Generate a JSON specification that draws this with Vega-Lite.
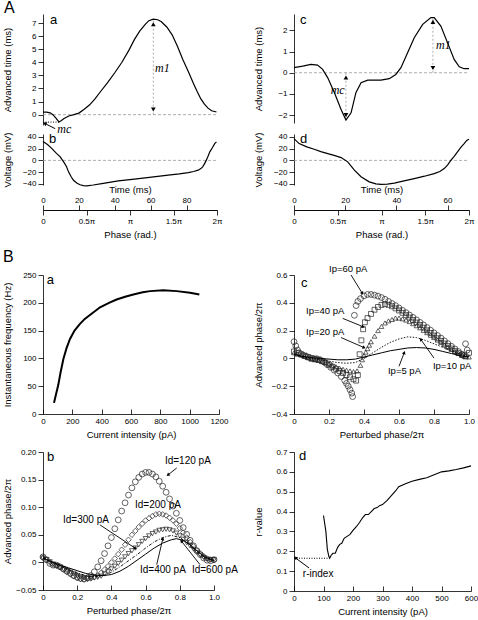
{
"$schema": "https://vega.github.io/schema/vega-lite/v6.json",
"padding": {"left": 1, "top": 0, "right": 2, "bottom": 2},
"background": "white",
"config": {
  "font": "Liberation Sans",
  "view": {"stroke": null},
  "axis": {"grid": false, "labelFontSize": 8, "titleFontSize": 9.5, "titleFontWeight": "normal", "labelColor": "#000", "titleColor": "#000", "domainColor": "#000", "tickColor": "#000", "domainWidth": 0.8, "tickWidth": 0.8, "labelFlush": false, "labelOverlap": false, "labelPadding": 2, "tickSize": 5, "labelFont": "Liberation Sans", "titleFont": "Liberation Sans"},
  "axisY": {"titleX": -31, "titlePadding": 4},
  "axisX": {"tickSize": -5, "labelPadding": 8, "titlePadding": 4},
  "text": {"font": "Liberation Sans", "color": "#000"}
},
"columns": 2,
"spacing": {"row": 9, "column": 75},
"bounds": "flush",
"align": "each",
"concat": [
{
  "width": 174, "height": 111,
  "title": {"text": "A", "anchor": "start", "frame": "group", "fontSize": 16, "fontWeight": "normal", "baseline": "alphabetic", "dx": -39, "dy": 15, "offset": 0, "color": "#000"},
  "encoding": {
    "x": {"field": "x", "type": "quantitative", "scale": {"domain": [0, 97], "nice": false, "zero": false}, "axis": null},
    "y": {"field": "y", "type": "quantitative", "scale": {"domain": [-0.79, 7.69], "nice": false, "zero": false}, "axis": {"values": [0,1,2,3,4,5,6,7], "title": "Advanced time (ms)"}}
  },
  "layer": [
    {"data": {"values": [{"x": 0, "x2": 97, "y": 0}]}, "mark": {"type": "rule", "color": "#999", "strokeDash": [3, 2], "strokeWidth": 0.8}, "encoding": {"x2": {"field": "x2"}}},
    {"data": {"values": [{"x": 61.5, "y": 0, "y2": 7.3}]}, "mark": {"type": "rule", "color": "#999", "strokeDash": [2, 2], "strokeWidth": 0.8}, "encoding": {"y2": {"field": "y2"}}},
    {"data": {"values": [{"x": 0, "x2": 9, "y": -0.57}]}, "mark": {"type": "rule", "color": "#000", "strokeDash": [1, 1.5], "strokeWidth": 1}, "encoding": {"x2": {"field": "x2"}}},
    {"data": {"values": [{"x": 6.8, "y": -1.07, "x2": 1.8, "y2": -0.73}]}, "mark": {"type": "rule", "color": "#000", "strokeWidth": 1}, "encoding": {"x2": {"field": "x2"}, "y2": {"field": "y2"}}},
    {"data": {"values": [{"x": 1.3, "y": -0.69}]}, "mark": {"type": "point", "shape": "triangle", "angle": -63, "filled": true, "size": 18, "color": "#000", "opacity": 1}},
    {"data": {"values": [{"x": 61.5, "y": 6.9}]}, "mark": {"type": "point", "shape": "triangle-up", "filled": true, "size": 22, "color": "#000", "opacity": 1}},
    {"data": {"values": [{"x": 61.5, "y": 0.4}]}, "mark": {"type": "point", "shape": "triangle-down", "filled": true, "size": 22, "color": "#000", "opacity": 1}},
    {"data": {"values": [
      {"x":0,"y":0.2},{"x":2,"y":0.2},{"x":4,"y":0.14},{"x":5.5,"y":0.0},{"x":7,"y":-0.22},{"x":8.9,"y":-0.56},{"x":10.3,"y":-0.45},{"x":11.7,"y":-0.3},{"x":14.4,"y":-0.1},{"x":17.2,"y":0.0},{"x":20,"y":0.12},{"x":23,"y":0.42},{"x":26,"y":0.75},{"x":29,"y":1.2},{"x":32,"y":1.75},{"x":36,"y":2.45},{"x":40,"y":3.2},{"x":44,"y":4.0},{"x":48,"y":4.95},{"x":51,"y":5.75},{"x":54,"y":6.4},{"x":57,"y":6.9},{"x":59,"y":7.18},{"x":61.5,"y":7.3},{"x":64,"y":7.25},{"x":66,"y":7.1},{"x":69,"y":6.7},{"x":72,"y":6.1},{"x":75,"y":5.2},{"x":78,"y":4.2},{"x":81,"y":3.3},{"x":84,"y":2.35},{"x":86,"y":1.75},{"x":88,"y":1.2},{"x":90,"y":0.8},{"x":92,"y":0.5},{"x":94,"y":0.3},{"x":96.7,"y":0.2}
    ]}, "mark": {"type": "line", "color": "#000", "strokeWidth": 1.2}},
    {"data": {"values": [{"x": 3.9, "y": 7.23, "label": "a"}]}, "mark": {"type": "text", "fontSize": 13, "align": "left", "baseline": "middle"}, "encoding": {"text": {"field": "label"}}},
    {"data": {"values": [{"x": 62.5, "y": 3.6, "label": "m1"}, {"x": 8, "y": -1.12, "label": "mc"}]}, "mark": {"type": "text", "font": "Liberation Serif", "fontStyle": "italic", "fontSize": 12, "align": "left", "baseline": "middle"}, "encoding": {"text": {"field": "label"}}}
  ]
},
{
  "width": 175, "height": 109,
  "encoding": {
    "x": {"field": "x", "type": "quantitative", "scale": {"domain": [0, 68.4], "nice": false, "zero": false}, "axis": null},
    "y": {"field": "y", "type": "quantitative", "scale": {"domain": [-2.37, 2.77], "nice": false, "zero": false}, "axis": {"values": [-2,-1,0,1,2], "title": "Advanced time (ms)"}}
  },
  "layer": [
    {"data": {"values": [{"x": 0, "x2": 68.4, "y": 0}]}, "mark": {"type": "rule", "color": "#999", "strokeDash": [3, 2], "strokeWidth": 0.8}, "encoding": {"x2": {"field": "x2"}}},
    {"data": {"values": [{"x": 54.3, "y": 0, "y2": 2.6}, {"x": 20.3, "y": 0, "y2": -2.2}]}, "mark": {"type": "rule", "color": "#999", "strokeDash": [2, 2], "strokeWidth": 0.8}, "encoding": {"y2": {"field": "y2"}}},
    {"data": {"values": [{"x": 54.3, "y": 2.4}, {"x": 20.3, "y": -0.22}]}, "mark": {"type": "point", "shape": "triangle-up", "filled": true, "size": 22, "color": "#000", "opacity": 1}},
    {"data": {"values": [{"x": 54.3, "y": 0.22}, {"x": 20.3, "y": -2.0}]}, "mark": {"type": "point", "shape": "triangle-down", "filled": true, "size": 22, "color": "#000", "opacity": 1}},
    {"data": {"values": [
      {"x":0,"y":0.24},{"x":3.4,"y":0.31},{"x":6.6,"y":0.39},{"x":9.2,"y":0.36},{"x":11.2,"y":0.16},{"x":13.2,"y":-0.24},{"x":15.8,"y":-0.94},{"x":18.4,"y":-1.73},{"x":20.3,"y":-2.23},{"x":22.3,"y":-1.89},{"x":24.2,"y":-0.94},{"x":26.2,"y":-0.47},{"x":28.8,"y":-0.35},{"x":34,"y":-0.35},{"x":37.2,"y":-0.28},{"x":39.8,"y":-0.08},{"x":41.8,"y":0.24},{"x":44.4,"y":0.94},{"x":47,"y":1.65},{"x":50.3,"y":2.28},{"x":53.5,"y":2.6},{"x":54.8,"y":2.6},{"x":57.4,"y":2.2},{"x":60,"y":1.42},{"x":62.6,"y":0.63},{"x":64.6,"y":0.28},{"x":66.5,"y":0.19},{"x":68.4,"y":0.19}
    ]}, "mark": {"type": "line", "color": "#000", "strokeWidth": 1.2}},
    {"data": {"values": [{"x": 2.3, "y": 2.48, "label": "c"}]}, "mark": {"type": "text", "fontSize": 13, "align": "left", "baseline": "middle"}, "encoding": {"text": {"field": "label"}}},
    {"data": {"values": [{"x": 55.5, "y": 1.3, "label": "m1"}]}, "mark": {"type": "text", "font": "Liberation Serif", "fontStyle": "italic", "fontSize": 12, "align": "left", "baseline": "middle"}, "encoding": {"text": {"field": "label"}}},
    {"data": {"values": [{"x": 19.8, "y": -0.8, "label": "mc"}]}, "mark": {"type": "text", "font": "Liberation Serif", "fontStyle": "italic", "fontSize": 12, "align": "right", "baseline": "middle"}, "encoding": {"text": {"field": "label"}}}
  ]
},
{
  "width": 174, "height": 51,
  "encoding": {
    "y": {"field": "y", "type": "quantitative", "scale": {"domain": [-42, 45], "nice": false, "zero": false}, "axis": {"values": [-40,-20,0,20,40], "title": "Voltage (mV)"}}
  },
  "layer": [
    {
      "encoding": {"x": {"field": "x", "type": "quantitative", "scale": {"domain": [0, 97], "nice": false, "zero": false}, "axis": {"orient": "top", "offset": -76, "title": "Time (ms)", "values": [0,20,40,60,80], "tickSize": 5, "labelPadding": 1, "titlePadding": 2}}},
      "layer": [
        {"data": {"values": [{"x": 0, "x2": 97, "y": 0}]}, "mark": {"type": "rule", "color": "#999", "strokeDash": [3, 2], "strokeWidth": 0.8}, "encoding": {"x2": {"field": "x2"}}},
        {"data": {"values": [
          {"x":0,"y":32},{"x":2.5,"y":27},{"x":5,"y":20},{"x":7.5,"y":12},{"x":9.6,"y":6},{"x":11.5,"y":-2.5},{"x":13,"y":-10},{"x":14.3,"y":-20},{"x":15.7,"y":-28},{"x":17,"y":-34},{"x":19,"y":-39},{"x":20.7,"y":-41.5},{"x":22.5,"y":-43},{"x":24.4,"y":-43.5},{"x":28,"y":-42},{"x":32.8,"y":-39.5},{"x":42,"y":-35},{"x":51,"y":-32},{"x":60.5,"y":-28.5},{"x":69.8,"y":-25},{"x":76,"y":-23},{"x":81,"y":-21},{"x":84,"y":-19},{"x":86.5,"y":-16.7},{"x":88,"y":-14},{"x":89,"y":-11},{"x":90,"y":-6},{"x":91,"y":0},{"x":92,"y":7},{"x":93,"y":14.5},{"x":94.5,"y":22},{"x":95.7,"y":28.6},{"x":96.7,"y":31.5}
        ]}, "mark": {"type": "line", "color": "#000", "strokeWidth": 1.2}},
        {"data": {"values": [{"x": 3.3, "y": 35.7, "label": "b"}]}, "mark": {"type": "text", "fontSize": 13, "align": "left", "baseline": "middle"}, "encoding": {"text": {"field": "label"}}}
      ]
    },
    {
      "data": {"values": [{"ph": 0, "y": 0}, {"ph": 2, "y": 0}]},
      "mark": {"type": "point", "opacity": 0},
      "encoding": {"x": {"field": "ph", "type": "quantitative", "scale": {"domain": [0, 2], "nice": false, "zero": false}, "axis": {"orient": "bottom", "offset": 25, "title": "Phase (rad.)", "values": [0, 0.5, 1, 1.5, 2], "labelExpr": "datum.value == 0 ? '0' : datum.value == 1 ? 'π' : datum.value == 2 ? '2π' : datum.value + 'π'", "tickSize": 5, "labelPadding": 2, "titlePadding": 4}}}
    }
  ],
  "resolve": {"scale": {"x": "independent"}, "axis": {"x": "independent"}}
},
{
  "width": 175, "height": 51,
  "encoding": {
    "y": {"field": "y", "type": "quantitative", "scale": {"domain": [-42, 45], "nice": false, "zero": false}, "axis": {"values": [-40,-20,0,20,40], "title": "Voltage (mV)"}}
  },
  "layer": [
    {
      "encoding": {"x": {"field": "x", "type": "quantitative", "scale": {"domain": [0, 68.4], "nice": false, "zero": false}, "axis": {"orient": "top", "offset": -76, "title": "Time (ms)", "values": [0,20,40,60], "tickSize": 5, "labelPadding": 1, "titlePadding": 2}}},
      "layer": [
        {"data": {"values": [{"x": 0, "x2": 68.4, "y": 0}]}, "mark": {"type": "rule", "color": "#999", "strokeDash": [3, 2], "strokeWidth": 0.8}, "encoding": {"x2": {"field": "x2"}}},
        {"data": {"values": [
          {"x":0,"y":37},{"x":2,"y":28.6},{"x":5,"y":23},{"x":7.9,"y":19},{"x":10.5,"y":15},{"x":13.2,"y":11.6},{"x":16,"y":8},{"x":18.4,"y":4.8},{"x":21,"y":-2.5},{"x":23.6,"y":-16.7},{"x":26.2,"y":-28},{"x":29.4,"y":-36.6},{"x":32,"y":-40},{"x":34,"y":-41},{"x":36.5,"y":-40.5},{"x":39.2,"y":-38.8},{"x":43,"y":-35},{"x":47,"y":-31},{"x":51,"y":-27},{"x":54.8,"y":-22.5},{"x":57,"y":-19},{"x":58.7,"y":-14},{"x":60,"y":-8},{"x":61.3,"y":0},{"x":62.6,"y":7},{"x":63.9,"y":14.5},{"x":65.2,"y":22},{"x":66.5,"y":28.6},{"x":67.5,"y":34},{"x":68.4,"y":36}
        ]}, "mark": {"type": "line", "color": "#000", "strokeWidth": 1.2}},
        {"data": {"values": [{"x": 2.3, "y": 36.6, "label": "d"}]}, "mark": {"type": "text", "fontSize": 13, "align": "left", "baseline": "middle"}, "encoding": {"text": {"field": "label"}}}
      ]
    },
    {
      "data": {"values": [{"ph": 0, "y": 0}, {"ph": 2, "y": 0}]},
      "mark": {"type": "point", "opacity": 0},
      "encoding": {"x": {"field": "ph", "type": "quantitative", "scale": {"domain": [0, 2], "nice": false, "zero": false}, "axis": {"orient": "bottom", "offset": 25, "title": "Phase (rad.)", "values": [0, 0.5, 1, 1.5, 2], "labelExpr": "datum.value == 0 ? '0' : datum.value == 1 ? 'π' : datum.value == 2 ? '2π' : datum.value + 'π'", "tickSize": 5, "labelPadding": 2, "titlePadding": 4}}}
    }
  ],
  "resolve": {"scale": {"x": "independent"}, "axis": {"x": "independent"}}
},
{"width": 10, "height": 72, "data": {"values": []}, "mark": "point"},
{"width": 10, "height": 72, "data": {"values": []}, "mark": "point"},
{
  "width": 176, "height": 139,
  "title": {"text": "B", "anchor": "start", "frame": "group", "fontSize": 16, "fontWeight": "normal", "baseline": "alphabetic", "dx": -40, "dy": 8, "offset": 1.5, "color": "#000"},
  "encoding": {
    "x": {"field": "x", "type": "quantitative", "scale": {"domain": [0, 1200], "nice": false, "zero": false}, "axis": {"values": [0,200,400,600,800,1000,1200], "format": "d", "title": "Current intensity (pA)"}},
    "y": {"field": "y", "type": "quantitative", "scale": {"domain": [0, 250], "nice": false, "zero": false}, "axis": {"values": [0,50,100,150,200,250], "title": "Instantaneous frequency (Hz)"}}
  },
  "layer": [
    {"data": {"values": [
      {"x":75,"y":20},{"x":90,"y":37},{"x":104,"y":52},{"x":120,"y":75},{"x":139,"y":99},{"x":160,"y":118},{"x":184,"y":135},{"x":215,"y":150},{"x":252,"y":162},{"x":285,"y":171},{"x":320,"y":178},{"x":389,"y":192},{"x":450,"y":200},{"x":502,"y":206},{"x":560,"y":211},{"x":616,"y":215},{"x":680,"y":219},{"x":730,"y":221},{"x":820,"y":222.5},{"x":912,"y":221},{"x":1003,"y":218},{"x":1066,"y":215}
    ]}, "mark": {"type": "line", "color": "#000", "strokeWidth": 2}},
    {"data": {"values": [{"x": 25, "y": 241, "label": "a"}]}, "mark": {"type": "text", "fontSize": 13, "align": "left", "baseline": "middle"}, "encoding": {"text": {"field": "label"}}}
  ]
},
{
  "width": 175, "height": 139,
  "encoding": {
    "x": {"field": "x", "type": "quantitative", "scale": {"domain": [0, 1], "nice": false, "zero": false}, "axis": {"values": [0,0.2,0.4,0.6,0.8,1], "labelExpr": "datum.value == 0 ? '0' : format(datum.value, '.1f')", "title": "Perturbed phase/2π"}},
    "y": {"field": "y", "type": "quantitative", "scale": {"domain": [-0.4, 0.6], "nice": false, "zero": false}, "axis": {"values": [-0.4,-0.2,0,0.2,0.4,0.6], "labelExpr": "datum.value == 0 ? '0' : format(datum.value, '.1f')", "title": "Advanced phase/2π"}}
  },
  "layer": [
    {"data": {"values": [
      {"x":0,"y":0.12},{"x":0.01,"y":0.09},{"x":0.02,"y":0.06},{"x":0.03,"y":0.04},{"x":0.05,"y":0.025},{"x":0.07,"y":0.015},{"x":0.09,"y":0.005},{"x":0.11,"y":0.0},{"x":0.13,"y":-0.002},{"x":0.15,"y":-0.01},{"x":0.17,"y":-0.025},{"x":0.19,"y":-0.045},{"x":0.21,"y":-0.065},{"x":0.23,"y":-0.085},{"x":0.25,"y":-0.105},{"x":0.27,"y":-0.13},{"x":0.29,"y":-0.16},{"x":0.3,"y":-0.18},{"x":0.31,"y":-0.2},{"x":0.32,"y":-0.225},{"x":0.33,"y":-0.25},{"x":0.335,"y":-0.275},{"x":0.345,"y":0.31},{"x":0.355,"y":0.38},{"x":0.365,"y":0.41},{"x":0.38,"y":0.43},{"x":0.4,"y":0.45},{"x":0.42,"y":0.46},{"x":0.44,"y":0.46},{"x":0.46,"y":0.455},{"x":0.48,"y":0.448},{"x":0.5,"y":0.438},{"x":0.52,"y":0.425},{"x":0.54,"y":0.41},{"x":0.56,"y":0.395},{"x":0.58,"y":0.38},{"x":0.6,"y":0.363},{"x":0.62,"y":0.346},{"x":0.64,"y":0.329},{"x":0.66,"y":0.312},{"x":0.68,"y":0.295},{"x":0.7,"y":0.277},{"x":0.72,"y":0.259},{"x":0.74,"y":0.241},{"x":0.76,"y":0.222},{"x":0.78,"y":0.203},{"x":0.8,"y":0.184},{"x":0.82,"y":0.165},{"x":0.84,"y":0.146},{"x":0.86,"y":0.126},{"x":0.88,"y":0.106},{"x":0.9,"y":0.087},{"x":0.92,"y":0.068},{"x":0.94,"y":0.049},{"x":0.96,"y":0.03},{"x":0.97,"y":0.02},{"x":0.98,"y":0.105},{"x":0.99,"y":0.06}
    ]}, "mark": {"type": "point", "shape": "circle", "filled": false, "size": 34, "color": "#222", "strokeWidth": 0.7, "opacity": 1}},
    {"data": {"values": [
      {"x":0,"y":0.05},{"x":0.02,"y":0.04},{"x":0.04,"y":0.03},{"x":0.06,"y":0.02},{"x":0.08,"y":0.01},{"x":0.1,"y":0.0},{"x":0.12,"y":-0.005},{"x":0.14,"y":-0.01},{"x":0.16,"y":-0.02},{"x":0.18,"y":-0.03},{"x":0.2,"y":-0.045},{"x":0.22,"y":-0.06},{"x":0.24,"y":-0.075},{"x":0.26,"y":-0.09},{"x":0.28,"y":-0.105},{"x":0.3,"y":-0.12},{"x":0.32,"y":-0.135},{"x":0.34,"y":-0.15},{"x":0.355,"y":-0.16},{"x":0.365,"y":-0.12},{"x":0.375,"y":0.03},{"x":0.385,"y":0.13},{"x":0.395,"y":0.21},{"x":0.405,"y":0.26},{"x":0.42,"y":0.29},{"x":0.44,"y":0.32},{"x":0.46,"y":0.35},{"x":0.48,"y":0.37},{"x":0.5,"y":0.385},{"x":0.52,"y":0.39},{"x":0.54,"y":0.385},{"x":0.56,"y":0.375},{"x":0.58,"y":0.36},{"x":0.6,"y":0.345},{"x":0.62,"y":0.328},{"x":0.64,"y":0.311},{"x":0.66,"y":0.294},{"x":0.68,"y":0.276},{"x":0.7,"y":0.258},{"x":0.72,"y":0.24},{"x":0.74,"y":0.221},{"x":0.76,"y":0.202},{"x":0.78,"y":0.183},{"x":0.8,"y":0.164},{"x":0.82,"y":0.145},{"x":0.84,"y":0.126},{"x":0.86,"y":0.107},{"x":0.88,"y":0.089},{"x":0.9,"y":0.071},{"x":0.92,"y":0.054},{"x":0.94,"y":0.038},{"x":0.96,"y":0.024},{"x":0.98,"y":0.014},{"x":1.0,"y":0.04}
    ]}, "mark": {"type": "point", "shape": "square", "filled": false, "size": 24, "color": "#222", "strokeWidth": 0.7, "opacity": 1}},
    {"data": {"values": [
      {"x":0,"y":0.04},{"x":0.02,"y":0.03},{"x":0.04,"y":0.025},{"x":0.06,"y":0.015},{"x":0.08,"y":0.005},{"x":0.1,"y":-0.005},{"x":0.12,"y":-0.01},{"x":0.14,"y":-0.015},{"x":0.16,"y":-0.02},{"x":0.18,"y":-0.03},{"x":0.2,"y":-0.04},{"x":0.22,"y":-0.05},{"x":0.24,"y":-0.06},{"x":0.26,"y":-0.07},{"x":0.28,"y":-0.078},{"x":0.3,"y":-0.085},{"x":0.32,"y":-0.09},{"x":0.34,"y":-0.095},{"x":0.36,"y":-0.09},{"x":0.38,"y":-0.05},{"x":0.39,"y":-0.01},{"x":0.4,"y":0.02},{"x":0.41,"y":0.045},{"x":0.42,"y":0.07},{"x":0.43,"y":0.095},{"x":0.44,"y":0.12},{"x":0.46,"y":0.16},{"x":0.48,"y":0.2},{"x":0.5,"y":0.23},{"x":0.52,"y":0.255},{"x":0.54,"y":0.27},{"x":0.56,"y":0.28},{"x":0.58,"y":0.29},{"x":0.6,"y":0.29},{"x":0.62,"y":0.285},{"x":0.64,"y":0.276},{"x":0.66,"y":0.265},{"x":0.68,"y":0.25},{"x":0.7,"y":0.235},{"x":0.72,"y":0.22},{"x":0.74,"y":0.202},{"x":0.76,"y":0.185},{"x":0.78,"y":0.167},{"x":0.8,"y":0.15},{"x":0.82,"y":0.132},{"x":0.84,"y":0.115},{"x":0.86,"y":0.097},{"x":0.88,"y":0.08},{"x":0.9,"y":0.065},{"x":0.92,"y":0.05},{"x":0.94,"y":0.036},{"x":0.96,"y":0.025},{"x":0.98,"y":0.015},{"x":1.0,"y":0.01}
    ]}, "mark": {"type": "point", "shape": "triangle-up", "filled": false, "size": 22, "color": "#222", "strokeWidth": 0.7, "opacity": 1}},
    {"data": {"values": [
      {"x":0,"y":0.03},{"x":0.05,"y":0.01},{"x":0.1,"y":0.0},{"x":0.15,"y":-0.01},{"x":0.2,"y":-0.02},{"x":0.25,"y":-0.03},{"x":0.3,"y":-0.035},{"x":0.35,"y":-0.03},{"x":0.4,"y":0.0},{"x":0.45,"y":0.04},{"x":0.5,"y":0.08},{"x":0.55,"y":0.115},{"x":0.6,"y":0.14},{"x":0.65,"y":0.155},{"x":0.7,"y":0.15},{"x":0.75,"y":0.13},{"x":0.8,"y":0.105},{"x":0.85,"y":0.08},{"x":0.9,"y":0.055},{"x":0.95,"y":0.03},{"x":1.0,"y":0.01}
    ]}, "mark": {"type": "line", "color": "#000", "strokeWidth": 0.9, "strokeDash": [1.5, 1.5]}},
    {"data": {"values": [
      {"x":0,"y":0.03},{"x":0.05,"y":0.015},{"x":0.1,"y":0.005},{"x":0.15,"y":0.0},{"x":0.2,"y":-0.005},{"x":0.25,"y":-0.01},{"x":0.3,"y":-0.01},{"x":0.35,"y":-0.005},{"x":0.4,"y":0.01},{"x":0.45,"y":0.025},{"x":0.5,"y":0.04},{"x":0.55,"y":0.055},{"x":0.6,"y":0.065},{"x":0.65,"y":0.075},{"x":0.7,"y":0.078},{"x":0.75,"y":0.075},{"x":0.8,"y":0.065},{"x":0.85,"y":0.05},{"x":0.9,"y":0.035},{"x":0.95,"y":0.02},{"x":1.0,"y":0.01}
    ]}, "mark": {"type": "line", "color": "#000", "strokeWidth": 1}},
    {"data": {"values": [
      {"x":0.326,"y":0.6,"x2":0.389,"y2":0.471},{"x":0.278,"y":0.288,"x2":0.393,"y2":0.229},{"x":0.269,"y":0.15,"x2":0.398,"y2":0.079},{"x":0.8,"y":0.002,"x2":0.726,"y2":0.134},{"x":0.6,"y":-0.057,"x2":0.629,"y2":0.038}
    ]}, "mark": {"type": "rule", "color": "#000", "strokeWidth": 0.9}, "encoding": {"x2": {"field": "x2"}, "y2": {"field": "y2"}}},
    {"data": {"values": [{"x": 0.389, "y": 0.471}]}, "mark": {"type": "point", "shape": "triangle", "angle": 149, "filled": true, "size": 14, "color": "#000", "opacity": 1}},
    {"data": {"values": [{"x": 0.393, "y": 0.229}]}, "mark": {"type": "point", "shape": "triangle", "angle": 112, "filled": true, "size": 14, "color": "#000", "opacity": 1}},
    {"data": {"values": [{"x": 0.398, "y": 0.079}]}, "mark": {"type": "point", "shape": "triangle", "angle": 114, "filled": true, "size": 14, "color": "#000", "opacity": 1}},
    {"data": {"values": [{"x": 0.726, "y": 0.134}]}, "mark": {"type": "point", "shape": "triangle", "angle": -36, "filled": true, "size": 14, "color": "#000", "opacity": 1}},
    {"data": {"values": [{"x": 0.629, "y": 0.038}]}, "mark": {"type": "point", "shape": "triangle", "angle": 21, "filled": true, "size": 14, "color": "#000", "opacity": 1}},
    {"data": {"values": [
      {"x":0.2,"y":0.643,"label":"Ip=60 pA"},{"x":0.069,"y":0.343,"label":"Ip=40 pA"},{"x":0.069,"y":0.193,"label":"Ip=20 pA"},{"x":0.794,"y":-0.057,"label":"Ip=10 pA"},{"x":0.537,"y":-0.093,"label":"Ip=5 pA"}
    ]}, "mark": {"type": "text", "fontSize": 9.5, "align": "left", "baseline": "middle"}, "encoding": {"text": {"field": "label"}}},
    {"data": {"values": [{"x": 0.04, "y": 0.543, "label": "c"}]}, "mark": {"type": "text", "fontSize": 13, "align": "left", "baseline": "middle"}, "encoding": {"text": {"field": "label"}}}
  ]
},
{"width": 10, "height": 20, "data": {"values": []}, "mark": "point"},
{"width": 10, "height": 20, "data": {"values": []}, "mark": "point"},
{
  "width": 171, "height": 138,
  "encoding": {
    "x": {"field": "x", "type": "quantitative", "scale": {"domain": [0, 1], "nice": false, "zero": false}, "axis": {"values": [0,0.2,0.4,0.6,0.8,1], "labelExpr": "datum.value == 0 ? '0' : format(datum.value, '.1f')", "title": "Perturbed phase/2π"}},
    "y": {"field": "y", "type": "quantitative", "scale": {"domain": [-0.05, 0.2], "nice": false, "zero": false}, "axis": {"values": [-0.05,0,0.05,0.1,0.15,0.2], "labelExpr": "datum.value == 0 ? '0' : format(datum.value, '.2f')", "title": "Advanced phase/2π"}}
  },
  "layer": [
    {"data": {"values": [
      {"x":0,"y":0.01},{"x":0.02,"y":0.005},{"x":0.04,"y":-0.002},{"x":0.06,"y":-0.005},{"x":0.08,"y":-0.005},{"x":0.1,"y":-0.008},{"x":0.12,"y":-0.012},{"x":0.14,"y":-0.016},{"x":0.16,"y":-0.02},{"x":0.18,"y":-0.024},{"x":0.2,"y":-0.027},{"x":0.22,"y":-0.029},{"x":0.24,"y":-0.03},{"x":0.26,"y":-0.028},{"x":0.28,"y":-0.024},{"x":0.3,"y":-0.017},{"x":0.32,"y":-0.008},{"x":0.34,"y":0.003},{"x":0.36,"y":0.016},{"x":0.38,"y":0.03},{"x":0.4,"y":0.045},{"x":0.42,"y":0.061},{"x":0.44,"y":0.077},{"x":0.46,"y":0.093},{"x":0.48,"y":0.108},{"x":0.5,"y":0.122},{"x":0.52,"y":0.135},{"x":0.54,"y":0.146},{"x":0.56,"y":0.154},{"x":0.58,"y":0.16},{"x":0.6,"y":0.163},{"x":0.62,"y":0.163},{"x":0.64,"y":0.16},{"x":0.66,"y":0.155},{"x":0.68,"y":0.147},{"x":0.7,"y":0.138},{"x":0.72,"y":0.127},{"x":0.74,"y":0.115},{"x":0.76,"y":0.102},{"x":0.78,"y":0.089},{"x":0.8,"y":0.076},{"x":0.82,"y":0.063},{"x":0.84,"y":0.051},{"x":0.86,"y":0.04},{"x":0.88,"y":0.03},{"x":0.9,"y":0.021},{"x":0.92,"y":0.014},{"x":0.94,"y":0.008},{"x":0.96,"y":0.004},{"x":0.98,"y":0.003},{"x":1.0,"y":0.005}
    ]}, "mark": {"type": "point", "shape": "circle", "filled": false, "size": 34, "color": "#222", "strokeWidth": 0.7, "opacity": 1}},
    {"data": {"values": [
      {"x":0,"y":0.008},{"x":0.02,"y":0.004},{"x":0.04,"y":0.0},{"x":0.06,"y":-0.004},{"x":0.08,"y":-0.006},{"x":0.1,"y":-0.009},{"x":0.12,"y":-0.013},{"x":0.14,"y":-0.017},{"x":0.16,"y":-0.021},{"x":0.18,"y":-0.025},{"x":0.2,"y":-0.028},{"x":0.22,"y":-0.03},{"x":0.24,"y":-0.031},{"x":0.26,"y":-0.03},{"x":0.28,"y":-0.029},{"x":0.3,"y":-0.027},{"x":0.32,"y":-0.024},{"x":0.34,"y":-0.019},{"x":0.36,"y":-0.013},{"x":0.38,"y":-0.007},{"x":0.4,"y":0.0},{"x":0.42,"y":0.007},{"x":0.44,"y":0.015},{"x":0.46,"y":0.023},{"x":0.48,"y":0.032},{"x":0.5,"y":0.041},{"x":0.52,"y":0.05},{"x":0.54,"y":0.057},{"x":0.56,"y":0.064},{"x":0.58,"y":0.07},{"x":0.6,"y":0.076},{"x":0.62,"y":0.08},{"x":0.64,"y":0.084},{"x":0.66,"y":0.087},{"x":0.68,"y":0.088},{"x":0.7,"y":0.087},{"x":0.72,"y":0.085},{"x":0.74,"y":0.081},{"x":0.76,"y":0.076},{"x":0.78,"y":0.07},{"x":0.8,"y":0.062},{"x":0.82,"y":0.054},{"x":0.84,"y":0.045},{"x":0.86,"y":0.037},{"x":0.88,"y":0.029},{"x":0.9,"y":0.022},{"x":0.92,"y":0.016},{"x":0.94,"y":0.011},{"x":0.96,"y":0.007},{"x":0.98,"y":0.005},{"x":1.0,"y":0.004}
    ]}, "mark": {"type": "point", "shape": "diamond", "filled": false, "size": 30, "color": "#222", "strokeWidth": 0.7, "opacity": 1}},
    {"data": {"values": [
      {"x":0,"y":0.008},{"x":0.02,"y":0.005},{"x":0.04,"y":0.001},{"x":0.06,"y":-0.003},{"x":0.08,"y":-0.006},{"x":0.1,"y":-0.009},{"x":0.12,"y":-0.012},{"x":0.14,"y":-0.015},{"x":0.16,"y":-0.018},{"x":0.18,"y":-0.021},{"x":0.2,"y":-0.024},{"x":0.22,"y":-0.026},{"x":0.24,"y":-0.028},{"x":0.26,"y":-0.029},{"x":0.28,"y":-0.029},{"x":0.3,"y":-0.028},{"x":0.32,"y":-0.027},{"x":0.34,"y":-0.025},{"x":0.36,"y":-0.021},{"x":0.38,"y":-0.017},{"x":0.4,"y":-0.012},{"x":0.42,"y":-0.007},{"x":0.44,"y":-0.002},{"x":0.46,"y":0.004},{"x":0.48,"y":0.01},{"x":0.5,"y":0.016},{"x":0.52,"y":0.021},{"x":0.54,"y":0.026},{"x":0.56,"y":0.032},{"x":0.58,"y":0.038},{"x":0.6,"y":0.043},{"x":0.62,"y":0.048},{"x":0.64,"y":0.052},{"x":0.66,"y":0.055},{"x":0.68,"y":0.058},{"x":0.7,"y":0.059},{"x":0.72,"y":0.06},{"x":0.74,"y":0.059},{"x":0.76,"y":0.057},{"x":0.78,"y":0.053},{"x":0.8,"y":0.048},{"x":0.82,"y":0.042},{"x":0.84,"y":0.036},{"x":0.86,"y":0.03},{"x":0.88,"y":0.024},{"x":0.9,"y":0.018},{"x":0.92,"y":0.013},{"x":0.94,"y":0.009},{"x":0.96,"y":0.006},{"x":0.98,"y":0.005},{"x":1.0,"y":0.005}
    ]}, "mark": {"type": "point", "shape": "triangle-down", "filled": false, "size": 24, "color": "#222", "strokeWidth": 0.7, "opacity": 1}},
    {"data": {"values": [
      {"x":0,"y":0.008},{"x":0.05,"y":0.0},{"x":0.1,"y":-0.007},{"x":0.15,"y":-0.013},{"x":0.2,"y":-0.019},{"x":0.25,"y":-0.024},{"x":0.3,"y":-0.026},{"x":0.35,"y":-0.024},{"x":0.4,"y":-0.018},{"x":0.45,"y":-0.008},{"x":0.5,"y":0.003},{"x":0.55,"y":0.014},{"x":0.6,"y":0.026},{"x":0.65,"y":0.037},{"x":0.7,"y":0.045},{"x":0.75,"y":0.049},{"x":0.8,"y":0.045},{"x":0.85,"y":0.034},{"x":0.9,"y":0.02},{"x":0.95,"y":0.008},{"x":1.0,"y":0.004}
    ]}, "mark": {"type": "line", "color": "#000", "strokeWidth": 0.9, "strokeDash": [3, 1.5, 1, 1.5]}},
    {"data": {"values": [
      {"x":0,"y":0.008},{"x":0.05,"y":0.001},{"x":0.1,"y":-0.005},{"x":0.15,"y":-0.01},{"x":0.2,"y":-0.015},{"x":0.25,"y":-0.02},{"x":0.3,"y":-0.023},{"x":0.35,"y":-0.024},{"x":0.4,"y":-0.022},{"x":0.45,"y":-0.016},{"x":0.5,"y":-0.007},{"x":0.55,"y":0.004},{"x":0.6,"y":0.015},{"x":0.65,"y":0.026},{"x":0.7,"y":0.035},{"x":0.75,"y":0.041},{"x":0.78,"y":0.043},{"x":0.82,"y":0.04},{"x":0.86,"y":0.032},{"x":0.9,"y":0.021},{"x":0.95,"y":0.009},{"x":1.0,"y":0.003}
    ]}, "mark": {"type": "line", "color": "#000", "strokeWidth": 1}},
    {"data": {"values": [
      {"x":0.782,"y":0.171,"x2":0.733,"y2":0.159},{"x":0.333,"y":0.068,"x2":0.538,"y2":0.026},{"x":0.665,"y":-0.004,"x2":0.7,"y2":0.042},{"x":0.918,"y":-0.004,"x2":0.811,"y2":0.038}
    ]}, "mark": {"type": "rule", "color": "#000", "strokeWidth": 0.9}, "encoding": {"x2": {"field": "x2"}, "y2": {"field": "y2"}}},
    {"data": {"values": [{"x": 0.733, "y": 0.159}]}, "mark": {"type": "point", "shape": "triangle", "angle": -128, "filled": true, "size": 14, "color": "#000", "opacity": 1}},
    {"data": {"values": [{"x": 0.538, "y": 0.026}]}, "mark": {"type": "point", "shape": "triangle", "angle": 124, "filled": true, "size": 14, "color": "#000", "opacity": 1}},
    {"data": {"values": [{"x": 0.7, "y": 0.042}]}, "mark": {"type": "point", "shape": "triangle", "angle": 13, "filled": true, "size": 14, "color": "#000", "opacity": 1}},
    {"data": {"values": [{"x": 0.811, "y": 0.038}]}, "mark": {"type": "point", "shape": "triangle", "angle": -38, "filled": true, "size": 14, "color": "#000", "opacity": 1}},
    {"data": {"values": [
      {"x":0.713,"y":0.184,"label":"Id=120 pA"},{"x":0.538,"y":0.104,"label":"Id=200 pA"},{"x":0.117,"y":0.076,"label":"Id=300 pA"},{"x":0.567,"y":-0.013,"label":"Id=400 pA"},{"x":0.871,"y":-0.013,"label":"Id=600 pA"}
    ]}, "mark": {"type": "text", "fontSize": 10, "align": "left", "baseline": "middle"}, "encoding": {"text": {"field": "label"}}},
    {"data": {"values": [{"x": 0.023, "y": 0.191, "label": "b"}]}, "mark": {"type": "text", "fontSize": 13, "align": "left", "baseline": "middle"}, "encoding": {"text": {"field": "label"}}}
  ]
},
{
  "width": 177, "height": 139,
  "encoding": {
    "x": {"field": "x", "type": "quantitative", "scale": {"domain": [0, 600], "nice": false, "zero": false}, "axis": {"values": [0,100,200,300,400,500,600], "title": "Current intensity (pA)"}},
    "y": {"field": "y", "type": "quantitative", "scale": {"domain": [0, 0.7], "nice": false, "zero": false}, "axis": {"values": [0,0.1,0.2,0.3,0.4,0.5,0.6,0.7], "labelExpr": "datum.value == 0 ? '0' : format(datum.value, '.1f')", "title": "r-value"}}
  },
  "layer": [
    {"data": {"values": [{"x": 0, "x2": 120, "y": 0.165}]}, "mark": {"type": "rule", "color": "#000", "strokeDash": [1, 1.5], "strokeWidth": 1}, "encoding": {"x2": {"field": "x2"}}},
    {"data": {"values": [{"x": 51, "y": 0.116, "x2": 8, "y2": 0.163}]}, "mark": {"type": "rule", "color": "#000", "strokeWidth": 1}, "encoding": {"x2": {"field": "x2"}, "y2": {"field": "y2"}}},
    {"data": {"values": [{"x": 6.8, "y": 0.166}]}, "mark": {"type": "point", "shape": "triangle", "angle": -52, "filled": true, "size": 16, "color": "#000", "opacity": 1}},
    {"data": {"values": [
      {"x":100,"y":0.38},{"x":108,"y":0.3},{"x":113,"y":0.21},{"x":118,"y":0.175},{"x":121,"y":0.165},{"x":126,"y":0.18},{"x":132,"y":0.19},{"x":140,"y":0.19},{"x":148,"y":0.22},{"x":155,"y":0.235},{"x":162,"y":0.24},{"x":170,"y":0.265},{"x":180,"y":0.275},{"x":190,"y":0.285},{"x":200,"y":0.305},{"x":212,"y":0.325},{"x":222,"y":0.345},{"x":233,"y":0.37},{"x":242,"y":0.385},{"x":252,"y":0.385},{"x":262,"y":0.4},{"x":272,"y":0.415},{"x":282,"y":0.42},{"x":290,"y":0.43},{"x":300,"y":0.435},{"x":315,"y":0.455},{"x":330,"y":0.48},{"x":345,"y":0.505},{"x":355,"y":0.525},{"x":378,"y":0.54},{"x":400,"y":0.553},{"x":425,"y":0.562},{"x":450,"y":0.57},{"x":475,"y":0.585},{"x":500,"y":0.6},{"x":525,"y":0.605},{"x":550,"y":0.612},{"x":575,"y":0.62},{"x":600,"y":0.63}
    ]}, "mark": {"type": "line", "color": "#000", "strokeWidth": 1.1}},
    {"data": {"values": [{"x": 30, "y": 0.085, "label": "r-index"}]}, "mark": {"type": "text", "fontSize": 10, "align": "left", "baseline": "middle"}, "encoding": {"text": {"field": "label"}}},
    {"data": {"values": [{"x": 17, "y": 0.68, "label": "d"}]}, "mark": {"type": "text", "fontSize": 13, "align": "left", "baseline": "middle"}, "encoding": {"text": {"field": "label"}}}
  ]
}
]
}
